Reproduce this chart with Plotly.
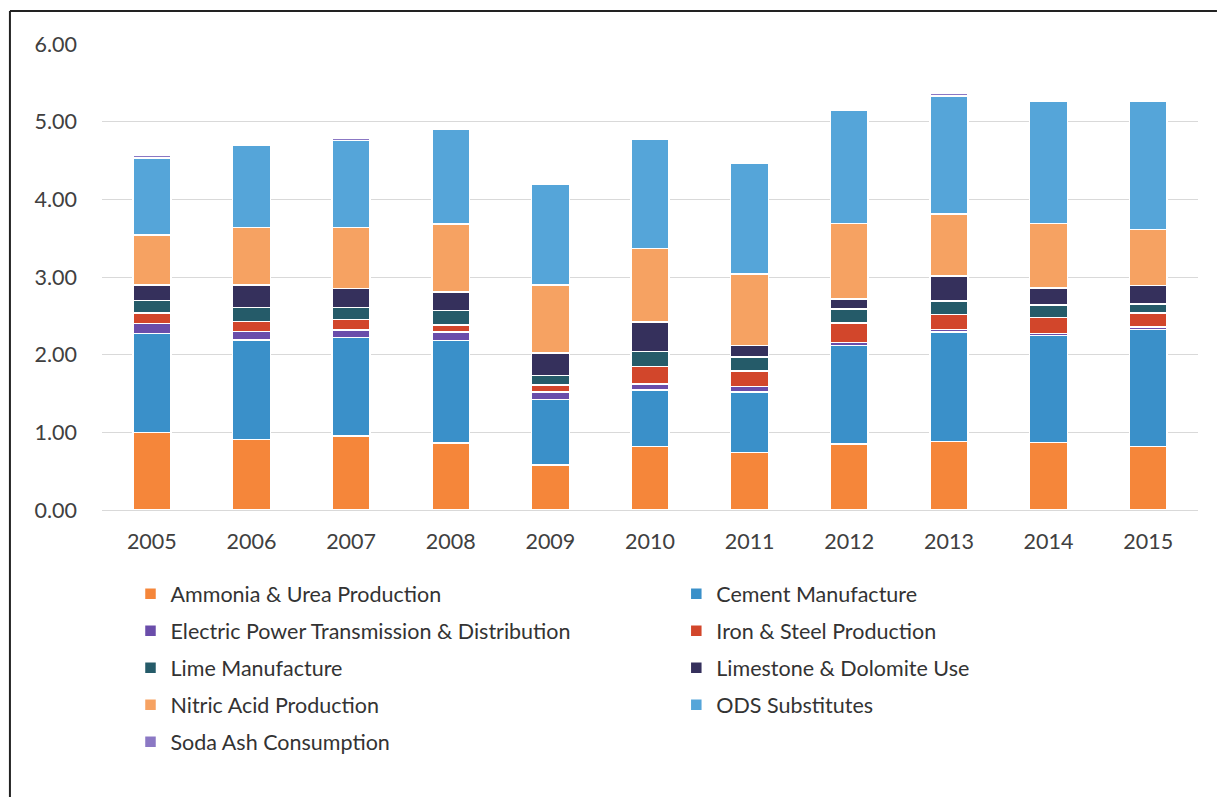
import plotly.graph_objects as go

years = ["2005", "2006", "2007", "2008", "2009", "2010", "2011", "2012", "2013", "2014", "2015"]

ammonia   = [1.00, 0.91, 0.95, 0.86, 0.58, 0.815, 0.74, 0.85, 0.885, 0.87, 0.82]
cement    = [1.27, 1.28, 1.27, 1.32, 0.84, 0.73, 0.78, 1.27, 1.405, 1.38, 1.505]
electric  = [0.13, 0.11, 0.10, 0.11, 0.10, 0.075, 0.07, 0.035, 0.035, 0.02, 0.03]
iron      = [0.135, 0.13, 0.13, 0.095, 0.09, 0.225, 0.20, 0.25, 0.19, 0.21, 0.18]
lime      = [0.165, 0.18, 0.16, 0.185, 0.12, 0.195, 0.18, 0.18, 0.175, 0.16, 0.12]
limestone = [0.20, 0.29, 0.24, 0.24, 0.29, 0.38, 0.145, 0.135, 0.32, 0.22, 0.235]
nitric    = [0.64, 0.74, 0.79, 0.87, 0.88, 0.95, 0.925, 0.97, 0.80, 0.83, 0.72]
ods       = [0.99, 1.05, 1.12, 1.22, 1.30, 1.40, 1.43, 1.46, 1.52, 1.57, 1.65]
soda      = [0.04, 0.02, 0.03, 0.02, 0.02, 0.02, 0.02, 0.02, 0.03, 0.02, 0.02]

series = [
    ("Ammonia & Urea Production", ammonia, "#F5863A", "legend"),
    ("Cement Manufacture", cement, "#3A90C9", "legend2"),
    ("Electric Power Transmission & Distribution", electric, "#6A4DAA", "legend"),
    ("Iron & Steel Production", iron, "#D2462B", "legend2"),
    ("Lime Manufacture", lime, "#255B69", "legend"),
    ("Limestone & Dolomite Use", limestone, "#35305C", "legend2"),
    ("Nitric Acid Production", nitric, "#F6A262", "legend"),
    ("ODS Substitutes", ods, "#55A5D9", "legend2"),
    ("Soda Ash Consumption", soda, "#8B78C4", "legend"),
]

fig = go.Figure()
for i, (name, vals, color, leg) in enumerate(series):
    fig.add_trace(go.Bar(
        x=years, y=vals, name=name, legend=leg, legendgroup="g%d" % i,
        marker=dict(color=color, line=dict(color="white", width=1.5)),
    ))

FONT = "Lato, 'Open Sans', sans-serif"
legend_common = dict(
    orientation="v", traceorder="grouped", tracegroupgap=6,
    yanchor="top", y=-0.136, xanchor="left",
    font=dict(family=FONT, size=21.5, color="#333333"),
    bgcolor="rgba(0,0,0,0)", itemclick=False, itemdoubleclick=False,
)

fig.update_layout(
    width=1217, height=797,
    barmode="stack", bargap=0.62,
    paper_bgcolor="white", plot_bgcolor="white",
    margin=dict(l=102, r=19, t=44, b=287),
    font=dict(family=FONT, size=21, color="#404040"),
    showlegend=True,
    legend=dict(x=0.026, **legend_common),
    legend2=dict(x=0.524, **legend_common),
    xaxis=dict(showgrid=False, showline=True, linecolor="#D9D9D9", linewidth=1,
               ticks="", ticklabelstandoff=12,
               tickfont=dict(family=FONT, size=21.5, color="#404040")),
    yaxis=dict(range=[0, 6], dtick=1, tickformat=".2f", showgrid=True,
               gridcolor="#D9D9D9", gridwidth=1, zeroline=False,
               ticks="", ticklabelstandoff=24,
               tickfont=dict(family=FONT, size=21.5, color="#404040")),
    shapes=[
        dict(type="line", xref="paper", yref="paper",
             x0=-0.0840, x1=1.0173, y0=1.071, y1=1.071,
             line=dict(color="#222222", width=2)),
        dict(type="line", xref="paper", yref="paper",
             x0=-0.0840, x1=-0.0840, y0=1.071, y1=-0.62,
             line=dict(color="#222222", width=2)),
    ],
)

fig.write_html("out.html",
               config={"displayModeBar": False},
               post_script="document.body.style.margin='0';document.body.style.overflow='hidden';document.documentElement.style.overflow='hidden';")
